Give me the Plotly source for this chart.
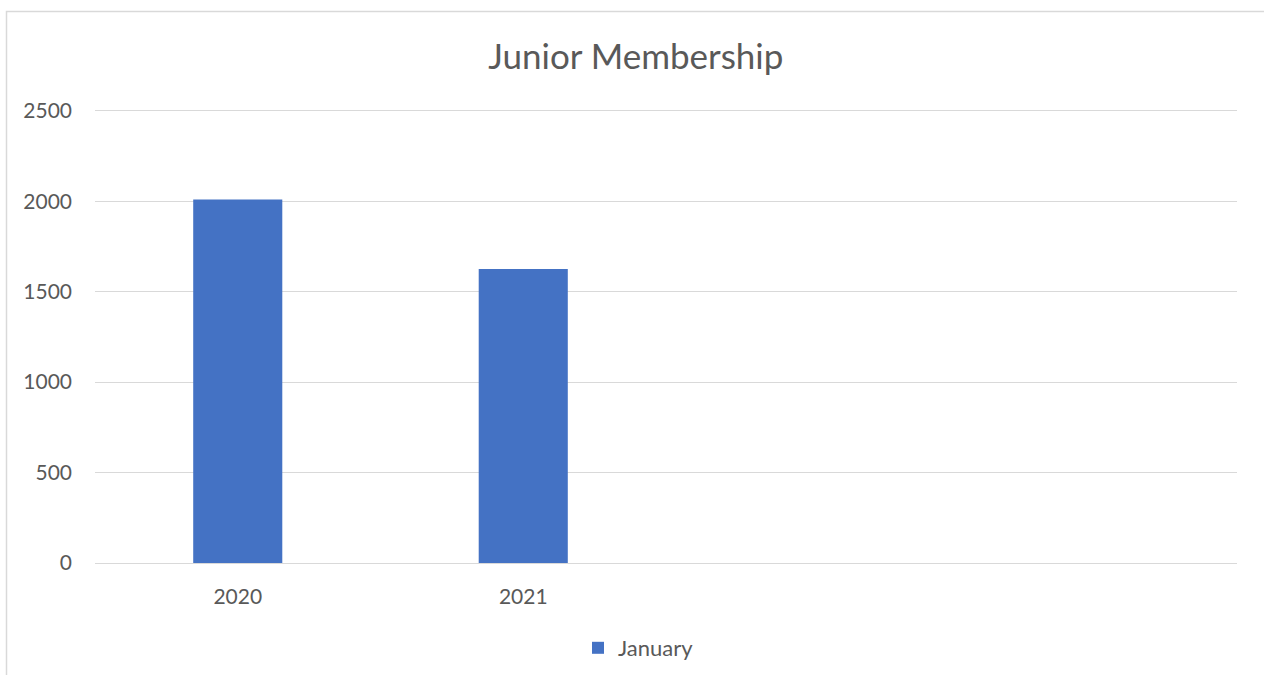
import plotly.graph_objects as go

# Junior membership counts recorded in January of each year
years = ["2020", "2021"]
january = [2010, 1625]
y_ticks = [0, 500, 1000, 1500, 2000, 2500]

TEXT = "#595959"
GRID = "#d9d9d9"
FONT = "Lato"

W, H = 1264, 675
M_L, M_R, M_T, M_B = 95, 27, 109, 112
PLOT_W = W - M_L - M_R
PLOT_H = H - M_T - M_B


def px_to_paper_x(px):
    return (px - M_L) / PLOT_W


def px_to_paper_y(px):
    return (H - M_B - px) / PLOT_H


fig = go.Figure()
fig.add_trace(go.Bar(
    x=years,
    y=january,
    name="January",
    marker=dict(color="#4472C4", line=dict(width=0)),
))

fig.update_layout(
    width=W,
    height=H,
    margin=dict(l=M_L, r=M_R, t=M_T, b=M_B),
    paper_bgcolor="white",
    plot_bgcolor="white",
    font=dict(family=FONT, color=TEXT, size=21),
    bargap=0.688,
    title=dict(
        text="Junior Membership",
        x=0.503, xref="container", xanchor="center",
        y=1 - 57 / H, yref="container", yanchor="middle",
        font=dict(family=FONT, size=35, color=TEXT),
    ),
    showlegend=True,
    legend=dict(
        orientation="h",
        x=px_to_paper_x(578), xref="paper", xanchor="left",
        y=1 - 648 / H, yref="container", yanchor="middle",
        font=dict(family=FONT, size=22, color=TEXT),
        bgcolor="rgba(0,0,0,0)",
    ),
    xaxis=dict(
        type="category",
        range=[-0.5, 3.5],
        automargin=False,
        showgrid=False,
        showline=True,
        linecolor=GRID,
        linewidth=1,
        ticks="",
        ticklabelstandoff=15,
        tickfont=dict(family=FONT, size=21, color=TEXT),
        fixedrange=True,
    ),
    yaxis=dict(
        range=[0, 2510],
        tickvals=y_ticks,
        automargin=False,
        showgrid=True,
        gridcolor=GRID,
        gridwidth=1,
        zeroline=False,
        showline=False,
        ticks="",
        ticklabelstandoff=22,
        tickfont=dict(family=FONT, size=21, color=TEXT),
        fixedrange=True,
    ),
    shapes=[
        # chart area border
        dict(
            type="rect", xref="paper", yref="paper",
            x0=px_to_paper_x(6.5), x1=px_to_paper_x(W + 20),
            y0=px_to_paper_y(H + 20), y1=px_to_paper_y(11.5),
            line=dict(color=GRID, width=1.5),
            fillcolor="rgba(0,0,0,0)",
            layer="below",
        ),
    ],
)

fig.write_html("out.html")
